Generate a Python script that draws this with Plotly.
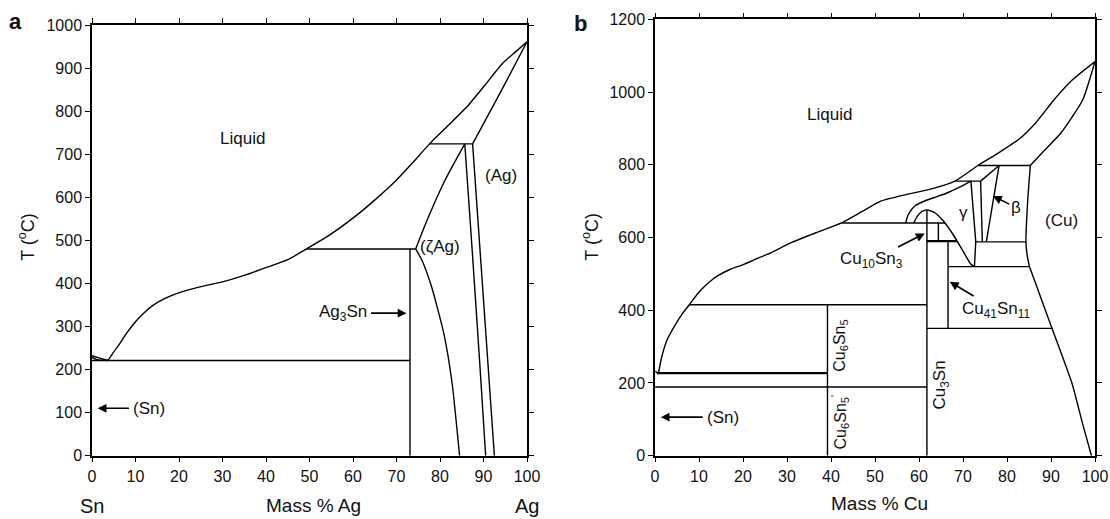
import plotly.graph_objects as go

# ---------------- Panel a : Sn-Ag (mass % Ag, T in degC) ----------------
a_liq_sn_x = [0, 1.6, 3.7]
a_liq_sn_t = [232, 227, 221]
a_sol_sn_x = [0, 1.2, 3.7]
a_sol_sn_t = [228, 223, 221]
a_liq_x = [3.7, 4.8, 6.3, 8.0, 9.9, 12.0, 14.0, 16.8, 19.9, 24.8, 29.8, 34.8, 39.8, 45.0, 49.3, 55.0, 61.3, 65.5, 69.6, 73.6, 77.6, 82.0, 86.2, 90.3, 94.4, 97.3, 100]
a_liq_t = [221, 238, 259, 285, 310, 332, 349, 365, 378, 392, 403, 418, 436, 455, 480, 515, 562, 598, 636, 679, 724, 768, 810, 860, 911, 937, 961]
a_sol_ag_x = [87.5, 93.7, 100]
a_sol_ag_t = [724, 840, 961]
a_eut_x = [0, 73.1]
a_eut_t = [221, 221]
a_per480_x = [49.3, 74.4]
a_per480_t = [480, 480]
a_per724_x = [77.6, 87.5]
a_per724_t = [724, 724]
a_ag3sn_x = [73.1, 73.1]
a_ag3sn_t = [0, 480]
a_ag3sn_solv_x = [74.4, 75.8, 78.1, 80.9, 82.8, 84.5]
a_ag3sn_solv_t = [480, 455, 391, 283, 167, 0]
a_zeta_top_x = [74.4, 77.0, 80.4, 82.8, 85.7]
a_zeta_top_t = [480, 546, 624, 671, 724]
a_zeta_r_x = [85.7, 87.4, 89.2, 90.5]
a_zeta_r_t = [724, 477, 205, 0]
a_ag_solv_x = [87.5, 92.5]
a_ag_solv_t = [724, 0]

# ---------------- Panel b : Sn-Cu (mass % Cu, T in degC) ----------------
b_liq_sn_x = [0, 0.8]
b_liq_sn_t = [232, 227]
b_liq_x = [0.8, 1.5, 2.8, 4.6, 6.2, 7.8, 9.6, 11.4, 13.0, 14.3, 17.0, 19.9, 23.0, 26.3, 31.2, 37.0, 42.4, 47.0, 51.3, 57.0, 62.6, 68.3, 73.4, 78.0, 82.7, 86.5, 90.7, 95.0, 100]
b_liq_t = [227, 270, 320, 360, 390, 415, 444, 467, 484, 495, 512, 525, 541, 558, 587, 615, 640, 671, 700, 718, 733, 756, 798, 832, 870, 915, 979, 1035, 1084]
b_sol_cu_x = [85.3, 88.0, 92.3, 97.2, 100]
b_sol_cu_t = [798, 833, 888, 978, 1084]
b_cu_bnd_x = [85.3, 84.7, 84.3, 84.6, 85.1]
b_cu_bnd_t = [798, 700, 588, 550, 520]
b_cu_solv_x = [85.1, 90.3, 94.8, 97.2, 99.2]
b_cu_solv_t = [520, 348, 198, 87, 0]
b_h798_x = [73.4, 85.3]
b_h798_t = [798, 798]
b_h755_x = [68.3, 74.0]
b_h755_t = [755, 755]
b_beta_diag_x = [74.0, 78.2]
b_beta_diag_t = [755, 798]
b_beta_r_x = [78.2, 75.3]
b_beta_r_t = [798, 588]
b_beta_l_x = [74.0, 74.4]
b_beta_l_t = [755, 588]
b_gamma_r_x = [71.8, 72.9, 72.6]
b_gamma_r_t = [755, 588, 520]
b_hook_x = [57.0, 57.3, 58.0, 59.2, 61.0, 63.5, 66.1, 69.0, 71.8]
b_hook_t = [640, 655, 672, 688, 699, 710, 721, 737, 755]
b_dome_x = [58.8, 59.6, 60.6, 61.8, 63.6, 65.5, 67.6, 69.8, 71.7, 72.6]
b_dome_t = [640, 658, 671, 676, 668, 646, 611, 567, 528, 520]
b_h640_x = [42.4, 65.9]
b_h640_t = [640, 640]
b_zeta_x = [64.4, 64.4]
b_zeta_t = [640, 590]
b_h590_x = [61.8, 68.6]
b_h590_t = [590, 590]
b_cu3sn_x = [61.8, 61.8]
b_cu3sn_t = [0, 676]
b_cu41_x = [66.6, 66.6]
b_cu41_t = [350, 590]
b_h586_x = [72.9, 84.3]
b_h586_t = [588, 588]
b_h520_x = [66.6, 85.1]
b_h520_t = [520, 520]
b_h350_x = [61.8, 90.3]
b_h350_t = [350, 350]
b_h415_x = [7.8, 61.8]
b_h415_t = [415, 415]
b_h227_x = [0.4, 39.2]
b_h227_t = [227, 227]
b_h189_x = [0, 61.8]
b_h189_t = [189, 189]
b_cu6sn5_x = [39.2, 39.2]
b_cu6sn5_t = [0, 415]

a_xticks = [0, 10, 20, 30, 40, 50, 60, 70, 80, 90, 100]
a_yticks = [0, 100, 200, 300, 400, 500, 600, 700, 800, 900, 1000]
b_xticks = [0, 10, 20, 30, 40, 50, 60, 70, 80, 90, 100]
b_yticks = [0, 200, 400, 600, 800, 1000, 1200]

FONT = "Liberation Sans, Arial, Helvetica, sans-serif"
fig = go.Figure()

def add(x, t, panel, w=1.4, smooth=False):
    fig.add_trace(go.Scatter(
        x=x, y=t, mode="lines",
        xaxis="x" if panel == "a" else "x2",
        yaxis="y" if panel == "a" else "y2",
        line=dict(color="black", width=w, shape="spline" if smooth else "linear", smoothing=0.5),
        hoverinfo="skip", showlegend=False))

# panel a
add(a_liq_sn_x, a_liq_sn_t, "a", smooth=True)
add(a_sol_sn_x, a_sol_sn_t, "a", smooth=True)
add(a_liq_x, a_liq_t, "a", smooth=True)
add(a_sol_ag_x, a_sol_ag_t, "a", smooth=True)
add(a_eut_x, a_eut_t, "a")
add(a_per480_x, a_per480_t, "a")
add(a_per724_x, a_per724_t, "a")
add(a_ag3sn_x, a_ag3sn_t, "a")
add(a_ag3sn_solv_x, a_ag3sn_solv_t, "a", smooth=True)
add(a_zeta_top_x, a_zeta_top_t, "a", smooth=True)
add(a_zeta_r_x, a_zeta_r_t, "a", smooth=True)
add(a_ag_solv_x, a_ag_solv_t, "a")

# panel b
add(b_liq_sn_x, b_liq_sn_t, "b")
add(b_liq_x, b_liq_t, "b", smooth=True)
add(b_sol_cu_x, b_sol_cu_t, "b", smooth=True)
add(b_cu_bnd_x, b_cu_bnd_t, "b", smooth=True)
add(b_cu_solv_x, b_cu_solv_t, "b", smooth=True)
add(b_h798_x, b_h798_t, "b")
add(b_h755_x, b_h755_t, "b")
add(b_beta_diag_x, b_beta_diag_t, "b")
add(b_beta_r_x, b_beta_r_t, "b")
add(b_beta_l_x, b_beta_l_t, "b")
add(b_gamma_r_x, b_gamma_r_t, "b")
add(b_hook_x, b_hook_t, "b", smooth=True)
add(b_dome_x, b_dome_t, "b", smooth=True)
add(b_h640_x, b_h640_t, "b")
add(b_zeta_x, b_zeta_t, "b")
add(b_h590_x, b_h590_t, "b", w=2.3)
add(b_cu3sn_x, b_cu3sn_t, "b")
add(b_cu41_x, b_cu41_t, "b")
add(b_h586_x, b_h586_t, "b")
add(b_h520_x, b_h520_t, "b")
add(b_h350_x, b_h350_t, "b")
add(b_h415_x, b_h415_t, "b")
add(b_h227_x, b_h227_t, "b", w=2.3)
add(b_h189_x, b_h189_t, "b")
add(b_cu6sn5_x, b_cu6sn5_t, "b")

ann = []
def txt(x, y, s, xref="x", yref="y", size=16, angle=0, xanchor="center", yanchor="middle"):
    ann.append(dict(x=x, y=y, text=s, xref=xref, yref=yref, showarrow=False,
                    font=dict(family=FONT, size=size, color="#111"), textangle=angle,
                    xanchor=xanchor, yanchor=yanchor))

def label_arrow(tx, ty, s, hx, hy, xref="x", yref="y", size=17, standoff=0):
    # text centred at (tx, ty); arrow runs from the text box to the head (hx, hy)
    ann.append(dict(x=hx, y=hy, ax=tx, ay=ty, xref=xref, yref=yref, axref=xref, ayref=yref,
                    text=s, showarrow=True, arrowhead=2, arrowsize=1.1, arrowwidth=1.6,
                    arrowcolor="black", startstandoff=standoff,
                    font=dict(family=FONT, size=size, color="#111")))

# panel a labels
txt(34.5, 736, "Liquid", size=17)
txt(94.0, 651, "(Ag)", size=17)
txt(74.9, 486, "(ζAg)", size=17, xanchor="left")
label_arrow(57.6, 331, "Ag<sub>3</sub>Sn", 72.3, 331, standoff=3)
label_arrow(13.2, 110, "(Sn)", 1.3, 110, standoff=3)
# panel b labels
txt(39.6, 938, "Liquid", size=17, xref="x2", yref="y2")
txt(70.2, 669, "γ", size=17, xref="x2", yref="y2")
label_arrow(82.0, 683, "β", 76.8, 714, xref="x2", yref="y2")
txt(92.4, 646, "(Cu)", size=17, xref="x2", yref="y2")
label_arrow(49.2, 537, "Cu<sub>10</sub>Sn<sub>3</sub>", 61.3, 611, xref="x2", yref="y2", size=17, standoff=2)
label_arrow(77.6, 402, "Cu<sub>41</sub>Sn<sub>11</sub>", 67.0, 478, xref="x2", yref="y2", size=17, standoff=2)
txt(42.1, 303, "Cu<sub>6</sub>Sn<sub>5</sub>", size=16, angle=-90, xref="x2", yref="y2")
txt(42.1, 92, "Cu<sub>6</sub>Sn<sub>5</sub><sup>'</sup>", size=16, angle=-90, xref="x2", yref="y2")
txt(65.0, 193, "Cu<sub>3</sub>Sn", size=17, angle=-90, xref="x2", yref="y2")
label_arrow(15.5, 106, "(Sn)", 1.3, 106, xref="x2", yref="y2", standoff=3)

# axis texts (paper coords)
txt(0.0, 0.026, "Sn", xref="x", yref="paper", size=20)
txt(51.0, 0.026, "Mass % Ag", xref="x", yref="paper", size=19)
txt(100.0, 0.026, "Ag", xref="x", yref="paper", size=20)
txt(-0.4, 0.030, "Sn", xref="x2", yref="paper", size=20)
txt(51.0, 0.030, "Mass % Cu", xref="x2", yref="paper", size=19)
txt(100.6, 0.030, "Cu", xref="x2", yref="paper", size=20)
txt(0.024, 0.543, "T (<sup>o</sup>C)", xref="paper", yref="paper", size=18, angle=-90)
txt(0.532, 0.543, "T (<sup>o</sup>C)", xref="paper", yref="paper", size=18, angle=-90)
txt(0.014, 0.958, "<b>a</b>", xref="paper", yref="paper", size=22)
txt(0.523, 0.955, "<b>b</b>", xref="paper", yref="paper", size=22)

axis_common = dict(showline=True, linecolor="black", linewidth=1.5, mirror="ticks",
                   ticks="outside", ticklen=5, tickwidth=1.3, tickcolor="black",
                   showgrid=False, zeroline=False, automargin=False,
                   tickfont=dict(family=FONT, size=16, color="#111"))

fig.update_layout(
    width=1110, height=519, template="none",
    paper_bgcolor="white", plot_bgcolor="white",
    margin=dict(l=0, r=0, t=0, b=0),
    showlegend=False,
    annotations=ann,
    xaxis=dict(domain=[92/1110, 527/1110], range=[0, 100], tickvals=a_xticks, anchor="y", **axis_common),
    yaxis=dict(domain=[1-455.7/519, 1-25/519], range=[0, 1000], tickvals=a_yticks, anchor="x", **axis_common),
    xaxis2=dict(domain=[655/1110, 1095/1110], range=[0, 100], tickvals=b_xticks, anchor="y2", **axis_common),
    yaxis2=dict(domain=[1-455.7/519, 1-19.3/519], range=[0, 1200], tickvals=b_yticks, anchor="x2", **axis_common),
)

fig.write_html("out.html", config={"displayModeBar": False},
               post_script="document.body.style.margin='0';document.body.style.overflow='hidden';")
